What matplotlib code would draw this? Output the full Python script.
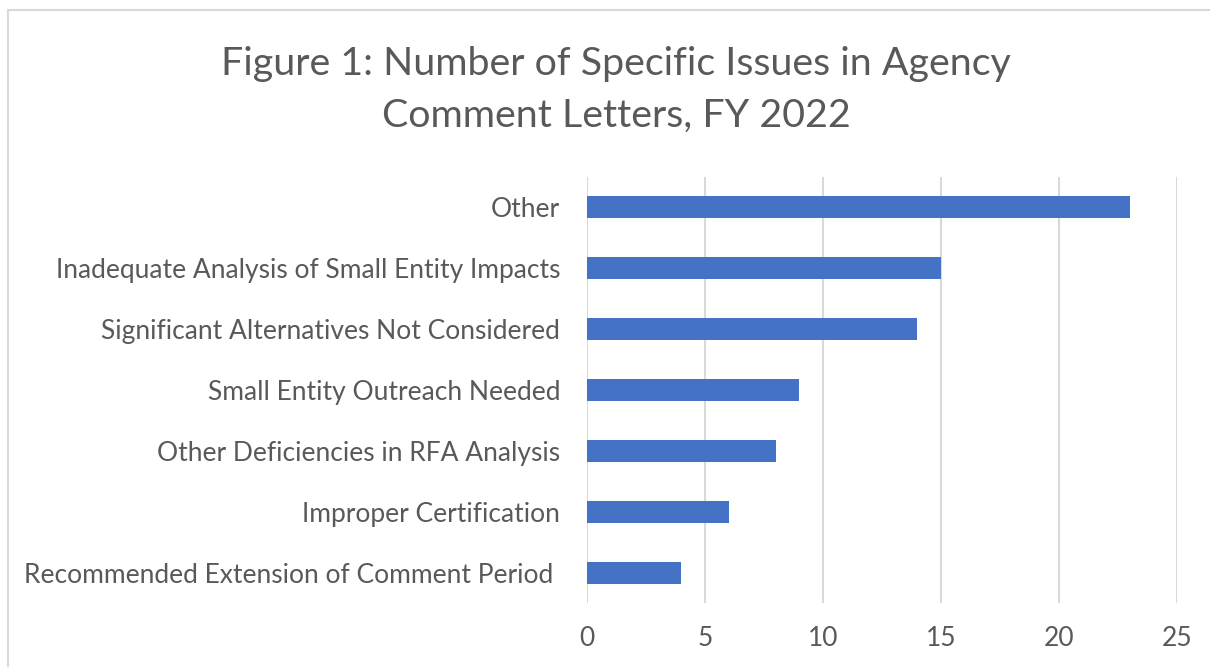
import matplotlib
matplotlib.use("Agg")
import matplotlib.pyplot as plt
from matplotlib.patches import Rectangle

categories = [
    "Other",
    "Inadequate Analysis of Small Entity Impacts",
    "Significant Alternatives Not Considered",
    "Small Entity Outreach Needed",
    "Other Deficiencies in RFA Analysis",
    "Improper Certification",
    "Recommended Extension of Comment Period ",
]
values = [23, 15, 14, 9, 8, 6, 4]
xticks = [0, 5, 10, 15, 20, 25]
title_lines = ["Figure 1: Number of Specific Issues in Agency", "Comment Letters, FY 2022"]

W, H = 1210, 667
plt.rcParams['font.family'] = ['Lato', 'DejaVu Sans']
text_color = "#595959"
grid_color = "#D9D9D9"
bar_color = "#4472C4"

fig = plt.figure(figsize=(W / 100, H / 100), dpi=100)
fig.patch.set_facecolor("white")

# outer chart border
fig.add_artist(Rectangle((8 / W, -0.05), 1.2, 1 - 10 / H + 0.05, transform=fig.transFigure,
                         fill=False, edgecolor=grid_color, linewidth=1.5))

ax = fig.add_axes([587 / W, 1 - 603 / H, (1177 - 587) / W, (603 - 177) / H])
n = len(categories)
ypos = list(range(n))
ax.barh(ypos, values, height=0.36, color=bar_color, zorder=3)
ax.set_ylim(n - 0.5, -0.5)
ax.set_xlim(0, 25)
ax.set_xticks(xticks)
ax.set_xticklabels([str(t) for t in xticks], fontsize=19, color=text_color)
ax.set_yticks(ypos)
ax.set_yticklabels(categories, fontsize=19, color=text_color)
ax.tick_params(axis='both', length=0)
ax.tick_params(axis='y', pad=19.4)
ax.tick_params(axis='x', pad=16.5)
ax.grid(axis='x', color=grid_color, linewidth=1.5, zorder=0)
for s in ax.spines.values():
    s.set_visible(False)

fig.text(616 / W, 1 - 64 / H, title_lines[0], ha='center', va='center', fontsize=28.4,
         color=text_color)
fig.text(616 / W, 1 - 116 / H, title_lines[1], ha='center', va='center', fontsize=28.4,
         color=text_color)

fig.savefig("out.png", dpi=100)
